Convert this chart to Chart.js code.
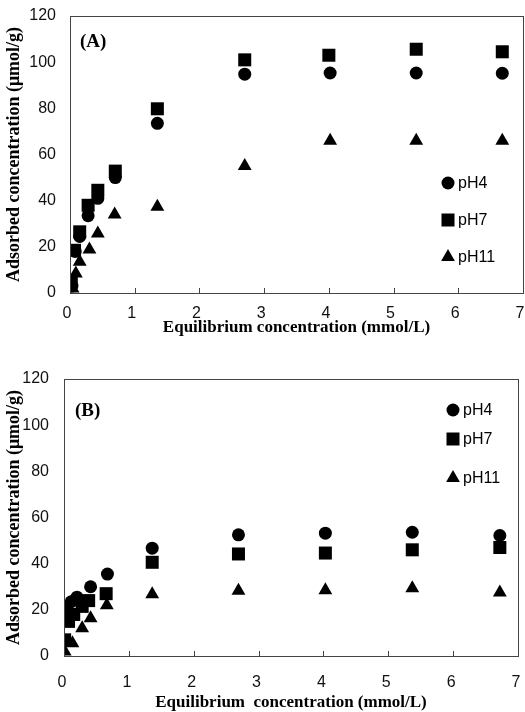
<!DOCTYPE html>
<html>
<head>
<meta charset="utf-8">
<script src="https://cdn.jsdelivr.net/npm/chart.js@4.4.0/dist/chart.umd.min.js"></script>
<style>
  html, body { margin: 0; padding: 0; background: #fff; }
  .panel { position: absolute; left: 0; width: 525px; }
  #wrapA { top: 0; height: 345px; }
  #wrapB { top: 345px; height: 367px; }
</style>
</head>
<body>
<div class="panel" id="wrapA"><canvas id="chartA" width="525" height="345"></canvas></div>
<div class="panel" id="wrapB"><canvas id="chartB" width="525" height="367"></canvas></div>
<script>
// Series names and marker shapes
const seriesLabels = ['pH4', 'pH7', 'pH11'];
const seriesStyles = ['circle', 'rect', 'triangle'];

// Panel (A) data
const aX_pH4  = [0.03, 0.08, 0.15, 0.28, 0.43, 0.70, 1.35, 2.70, 4.02, 5.35, 6.68];
const aY_pH4  = [3.0, 18.0, 24.5, 33.5, 41.0, 50.0, 73.5, 94.8, 95.3, 95.3, 95.2];
const aX_pH7  = [0.02, 0.07, 0.15, 0.28, 0.43, 0.70, 1.35, 2.70, 4.00, 5.35, 6.68];
const aY_pH7  = [5.0, 18.5, 26.5, 38.0, 44.5, 52.8, 79.8, 101.0, 103.0, 105.6, 104.5];
const aX_pH11 = [0.04, 0.09, 0.15, 0.30, 0.43, 0.69, 1.35, 2.70, 4.02, 5.35, 6.68];
const aY_pH11 = [2.0, 8.5, 13.5, 18.8, 25.8, 34.0, 37.4, 55.0, 66.0, 66.0, 66.0];

// Panel (B) data
const bX_pH4  = [0.05, 0.11, 0.20, 0.41, 0.67, 1.36, 2.69, 4.03, 5.37, 6.72];
const bY_pH4  = [20.0, 23.5, 25.5, 30.0, 35.5, 46.7, 52.5, 53.2, 53.6, 52.2];
const bX_pH7  = [0.01, 0.07, 0.15, 0.28, 0.38, 0.65, 1.36, 2.69, 4.03, 5.37, 6.72];
const bY_pH7  = [7.0, 15.0, 18.0, 21.5, 24.0, 27.0, 40.6, 44.2, 44.6, 46.0, 47.0];
const bX_pH11 = [0.01, 0.13, 0.28, 0.41, 0.66, 1.36, 2.69, 4.03, 5.37, 6.72];
const bY_pH11 = [1.9, 5.5, 12.0, 16.4, 22.0, 26.8, 28.3, 28.5, 29.4, 27.5];

// Axis ticks
const xMin = 0, xMax = 7, xStep = 1;
const yMin = 0, yMax = 120, yStep = 20;

const xTitleA = 'Equilibrium concentration (mmol/L)';
const xTitleB = 'Equilibrium  concentration (mmol/L)';
const yTitle = 'Adsorbed concentration (\u03bcmol/g)';

const pointSizes = { circle: 6.5, rect: 9.2, triangle: 8 };

function toPoints(xs, ys) {
    return xs.map((x, i) => ({ x: x, y: ys[i] }));
}

function makeDatasets(groups) {
    return groups.map((g, i) => ({
        label: seriesLabels[i],
        data: toPoints(g[0], g[1]),
        pointStyle: seriesStyles[i],
        pointRadius: pointSizes[seriesStyles[i]],
        pointBackgroundColor: '#000',
        pointBorderWidth: 0,
        showLine: false
    }));
}

// marker for the in-plot legend
function drawMarker(ctx, style, x, y) {
    ctx.beginPath();
    if (style === 'circle') {
        ctx.arc(x, y, 6.5, 0, Math.PI * 2);
    } else if (style === 'rect') {
        ctx.rect(x - 6.5, y - 6.5, 13, 13);
    } else {
        ctx.moveTo(x, y - 8);
        ctx.lineTo(x + 6.9, y + 4);
        ctx.lineTo(x - 6.9, y + 4);
        ctx.closePath();
    }
    ctx.fill();
}

// Frame, inward ticks, panel letter and legend
const framePlugin = {
    id: 'frame',
    afterDatasetsDraw(chart, args, opts) {
        const ctx = chart.ctx;
        const a = chart.chartArea;
        const xs = chart.scales.x;
        ctx.save();
        ctx.strokeStyle = '#444';
        ctx.lineWidth = 1;
        ctx.strokeRect(a.left + 0.5, a.top + 0.5, a.right - a.left, a.bottom - a.top);
        ctx.beginPath();
        xs.ticks.forEach(t => {
            const px = Math.round(xs.getPixelForValue(t.value)) + 0.5;
            ctx.moveTo(px, a.bottom);
            ctx.lineTo(px, a.bottom - 5);
        });
        ctx.stroke();

        ctx.fillStyle = '#000';
        ctx.font = 'bold 19px "Liberation Serif", "Times New Roman", serif';
        ctx.textAlign = 'left';
        ctx.textBaseline = 'middle';
        ctx.fillText(opts.panel, opts.panelX, opts.panelY);

        ctx.font = '16px "Liberation Sans", Arial, sans-serif';
        chart.data.datasets.forEach((ds, i) => {
            const y = opts.legendY[i];
            drawMarker(ctx, ds.pointStyle, opts.legendX, y);
            ctx.fillText(ds.label, opts.legendX + 10, y + 1);
        });
        ctx.restore();
    }
};

function makeChart(canvasId, datasets, cfg) {
    return new Chart(document.getElementById(canvasId), {
        type: 'scatter',
        data: { datasets: datasets },
        plugins: [framePlugin],
        options: {
            responsive: false,
            animation: false,
            layout: {
                autoPadding: false,
                padding: { top: cfg.top, right: cfg.right, left: 0, bottom: 0 }
            },
            plugins: {
                legend: { display: false },
                tooltip: { enabled: false },
                frame: cfg.frame
            },
            scales: {
                x: {
                    type: 'linear',
                    min: xMin, max: xMax,
                    afterFit: s => {
                        s.height = cfg.xHeight;
                        s.paddingLeft = 0;
                        s.paddingRight = 0;
                    },
                    ticks: {
                        stepSize: xStep,
                        padding: cfg.xTickPad,
                        labelOffset: cfg.xLabelShift,
                        color: '#111',
                        font: { family: '"Liberation Sans", Arial, sans-serif', size: 16 }
                    },
                    grid: { display: false, drawTicks: false },
                    border: { display: false },
                    title: {
                        display: true,
                        text: cfg.xTitle,
                        color: '#000',
                        padding: { top: 0, bottom: cfg.xTitlePad },
                        font: { family: '"Liberation Serif", "Times New Roman", serif', size: 17, weight: 'bold', lineHeight: 1.1 }
                    }
                },
                y: {
                    type: 'linear',
                    min: yMin, max: yMax,
                    afterFit: s => {
                        s.width = cfg.yWidth;
                        s.paddingTop = 0;
                        s.paddingBottom = 0;
                    },
                    ticks: {
                        stepSize: yStep,
                        padding: cfg.yTickPad,
                        color: '#111',
                        font: { family: '"Liberation Sans", Arial, sans-serif', size: 16 }
                    },
                    grid: { display: false, drawTicks: false },
                    border: { display: false },
                    title: {
                        display: true,
                        text: yTitle,
                        color: '#000',
                        padding: { top: 4, bottom: 0 },
                        font: { family: '"Liberation Serif", "Times New Roman", serif', size: 18, weight: 'bold', lineHeight: 1.1 }
                    }
                }
            }
        }
    });
}

makeChart('chartA', makeDatasets([[aX_pH4, aY_pH4], [aX_pH7, aY_pH7], [aX_pH11, aY_pH11]]), {
    top: 16, right: 2, xHeight: 52, yWidth: 70,
    xTickPad: 11, xLabelShift: -3, yTickPad: 14, xTitle: xTitleA, xTitlePad: 8,
    frame: { panel: '(A)', panelX: 80, panelY: 42, legendX: 448, legendY: [183, 220, 257] }
});

makeChart('chartB', makeDatasets([[bX_pH4, bY_pH4], [bX_pH7, bY_pH7], [bX_pH11, bY_pH11]]), {
    top: 34, right: 7, xHeight: 56, yWidth: 64,
    xTickPad: 17, xLabelShift: -2, yTickPad: 15, xTitle: xTitleB, xTitlePad: 0,
    frame: { panel: '(B)', panelX: 75, panelY: 66, legendX: 453, legendY: [65, 94, 133] }
});
</script>
</body>
</html>
